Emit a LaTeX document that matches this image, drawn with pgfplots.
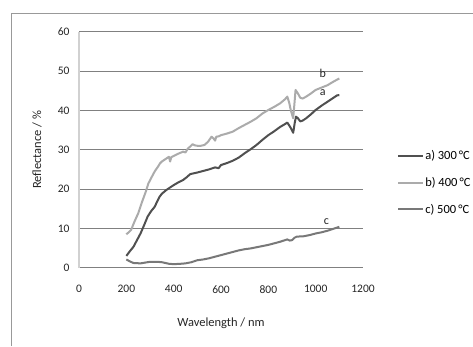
\documentclass[border=0pt]{standalone}
\usepackage{pgfplots}
\pgfplotsset{compat=1.18}
\usepackage{fontspec}
\setmainfont{Carlito}
\definecolor{ca}{HTML}{505050}
\definecolor{cb}{HTML}{ABABAB}
\definecolor{cc}{HTML}{787878}
\begin{document}
\begin{tikzpicture}
\useasboundingbox (0pt,0pt) rectangle (473pt,346pt);
\fill[white] (0pt,0pt) rectangle (473pt,346pt);
\draw[color=gray!80, line width=0.6pt] (11pt,0pt) -- (11pt,333pt) -- (473pt,333pt);
\begin{axis}[
  at={(79pt,78.3pt)}, anchor=south west,
  scale only axis, width=284pt, height=236pt,
  xmin=0, xmax=1200, ymin=0, ymax=60,
  xtick={0,200,...,1200}, ytick={0,10,...,60},
  axis x line*=bottom, axis y line*=left,
  axis line style={-},
  x axis line style={color=gray, line width=0.6pt},
  y axis line style={color=black!18, line width=1.6pt},
  ymajorgrids, grid style={color=gray, line width=0.6pt},
  major tick length=0pt,
  /pgf/number format/assume math mode=true,
  /pgf/number format/1000 sep={},
  ticklabel style={font=\fontsize{11.5}{13}\selectfont, color=black!85},
  xticklabel style={yshift=-14pt},
  yticklabel style={xshift=-6pt},
  xlabel={Wavelength / nm}, ylabel={Reflectance / \%},
  xlabel style={font=\fontsize{12.5}{14}\selectfont, color=black!85, at={(axis description cs:0.5,0)}, anchor=center, yshift=-56pt},
  ylabel style={font=\fontsize{12.5}{14}\selectfont, color=black!85, at={(axis description cs:-0.148,0.5)}, anchor=center},
  legend style={at={(axis description cs:1.12,0.36)}, anchor=west, draw=none, fill=none, inner sep=0pt,
    font=\fontsize{12.5}{14}\selectfont, row sep=14pt, nodes={inner sep=1pt}},
  legend cell align=left,
  legend image code/.code={\draw[#1, line width=2pt] (0pt,0pt) -- (25pt,0pt);},
  every axis plot/.append style={line width=2pt, line join=round},
  clip=false,
]
\addplot[color=ca] coordinates {
(200,3.0)(215,4.2)(230,5.3)(245,7.0)(260,8.7)(275,10.8)(290,13.0)(305,14.4)(320,15.5)(330,16.8)(340,18.0)(350,18.8)(360,19.3)(370,19.8)(380,20.2)(400,21.0)(420,21.7)(440,22.3)(455,23.0)(470,23.8)(485,24.0)(500,24.2)(525,24.6)(550,25.0)(575,25.5)(590,25.3)(600,26.1)(625,26.6)(650,27.2)(675,28.0)(700,29.1)(725,30.1)(750,31.2)(775,32.5)(800,33.7)(825,34.7)(850,35.8)(870,36.5)(880,36.9)(888,36.2)(895,35.5)(905,34.3)(912,37.0)(917,38.4)(925,38.0)(935,37.2)(945,37.4)(960,38.0)(980,39.0)(1000,40.1)(1025,41.2)(1050,42.2)(1075,43.2)(1090,43.8)(1100,43.9)
};
\addlegendentry{a) 300\,°C}
\addplot[color=cb] coordinates {
(200,8.5)(210,9.0)(220,9.6)(235,11.8)(250,13.8)(265,16.5)(282,19.3)(293,21.4)(305,22.8)(320,24.5)(335,25.8)(342,26.5)(350,27.0)(365,27.6)(380,28.2)(385,27.0)(390,28.1)(400,28.4)(420,29.0)(440,29.5)(450,29.3)(460,30.3)(470,30.8)(480,31.4)(490,31.1)(500,31.0)(515,31.0)(530,31.2)(545,32.0)(560,33.3)(568,32.9)(575,32.3)(580,33.3)(590,33.4)(600,33.7)(625,34.1)(650,34.6)(675,35.5)(700,36.3)(725,37.1)(750,38.0)(775,39.2)(800,40.1)(825,40.9)(850,41.8)(870,42.8)(880,43.5)(888,42.0)(895,40.0)(905,38.0)(910,41.5)(915,45.2)(925,44.3)(935,43.2)(945,43.0)(960,43.5)(980,44.3)(1000,45.2)(1025,45.8)(1050,46.4)(1075,47.3)(1090,47.8)(1100,48.1)
};
\addlegendentry{b) 400\,°C}
\addplot[color=cc] coordinates {
(200,2.1)(215,1.6)(230,1.2)(260,1.1)(300,1.5)(330,1.5)(350,1.4)(380,1.0)(400,0.9)(430,1.0)(450,1.1)(475,1.4)(500,1.9)(525,2.1)(550,2.4)(575,2.8)(600,3.2)(625,3.6)(650,4.0)(675,4.4)(700,4.7)(725,4.9)(750,5.2)(775,5.5)(800,5.8)(825,6.2)(850,6.6)(870,7.0)(880,7.2)(890,6.9)(900,7.0)(910,7.6)(920,7.9)(950,8.0)(975,8.3)(1000,8.7)(1025,9.0)(1050,9.4)(1075,9.9)(1100,10.4)
};
\addlegendentry{c) 500\,°C}
\node[font=\fontsize{12}{14}\selectfont, color=black!85] at (axis cs:1030,49.5) {b};
\node[font=\fontsize{12}{14}\selectfont, color=black!85] at (axis cs:1030,44.6) {a};
\node[font=\fontsize{12}{14}\selectfont, color=black!85] at (axis cs:1045,11.8) {c};
\end{axis}
\end{tikzpicture}
\end{document}
